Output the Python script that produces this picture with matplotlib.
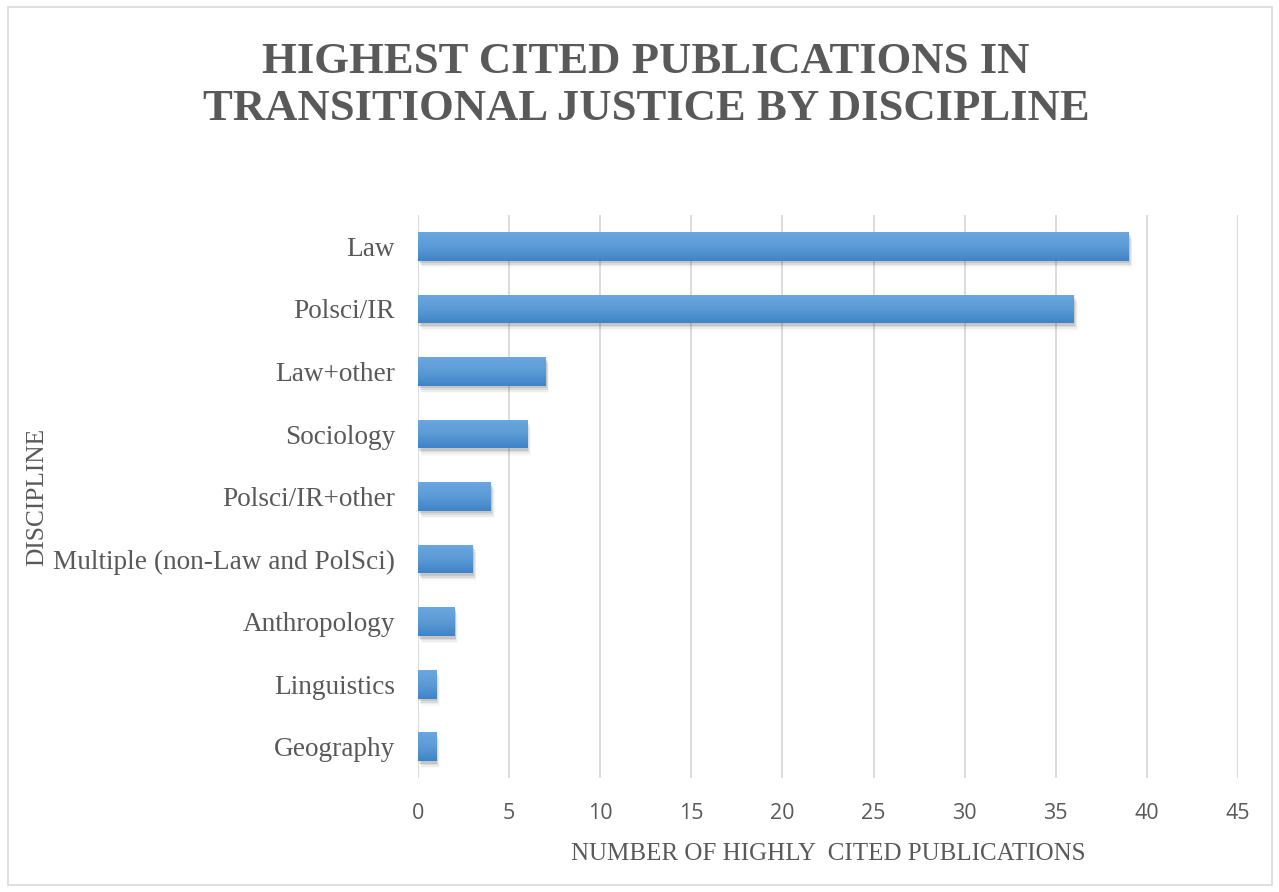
import numpy as np
from matplotlib import pyplot as plt
from matplotlib.patches import Rectangle
from matplotlib.colors import LinearSegmentedColormap

disciplines = ["Law", "Polsci/IR", "Law+other", "Sociology", "Polsci/IR+other",
               "Multiple (non-Law and PolSci)", "Anthropology", "Linguistics", "Geography"]
counts = [39, 36, 7, 6, 4, 3, 2, 1, 1]
x_ticks = [0, 5, 10, 15, 20, 25, 30, 35, 40, 45]

title = "HIGHEST CITED PUBLICATIONS IN\nTRANSITIONAL JUSTICE BY DISCIPLINE"
grey_text = "#595959"

fig = plt.figure(figsize=(12.79, 8.92), dpi=100)
ax = fig.add_axes([0.3268, 0.1278, 0.6411, 0.631])

# outer chart frame
fig.patches.append(Rectangle((8 / 1279, 7 / 892), 1264 / 1279, 878 / 892,
                             transform=fig.transFigure, fill=False,
                             edgecolor="#d9d9d9", linewidth=1.2))

y = np.arange(len(disciplines))
bar_h = 0.46
bars = ax.barh(y, counts, height=bar_h, color="#5b9bd5", zorder=3)

# soft shadow + vertical gradient (light top, darker bottom)
cmap = LinearSegmentedColormap.from_list("bluegrad", ["#6ba7e0", "#5b9bd5", "#3f83c8"])
grad = np.linspace(0, 1, 100).reshape(-1, 1)
for b in bars:
    x0, y0 = b.get_x(), b.get_y()
    w, h = b.get_width(), b.get_height()
    for k, a in enumerate([0.14, 0.10, 0.06, 0.03]):
        ax.add_patch(Rectangle((x0 + 0.06 + 0.05 * k, y0 + 0.04 + 0.025 * k), w, h,
                               color="#404040", alpha=a, lw=0, zorder=2))
    im = ax.imshow(grad, extent=(x0, x0 + w, y0 + h, y0), aspect="auto",
                   cmap=cmap, origin="upper", zorder=3.5)
    im.set_clip_path(b)

ax.set_xlim(0, 45)
ax.set_ylim(len(disciplines) - 0.5, -0.5)
ax.set_xticks(x_ticks)
ax.set_yticks(y)
ax.set_yticklabels(disciplines, family="Liberation Serif", fontsize=19.6, color=grey_text)
ax.set_xticklabels([str(t) for t in x_ticks], family="Open Sans", fontsize=15.5, color=grey_text)
ax.tick_params(length=0, pad=18, axis="x")
ax.tick_params(length=0, pad=16.5, axis="y")

ax.grid(axis="x", color="#d9d9d9", linewidth=1.3, zorder=0)
for s in ax.spines.values():
    s.set_visible(False)

ax.set_xlabel("NUMBER OF HIGHLY  CITED PUBLICATIONS", family="Liberation Serif",
              fontsize=18, color=grey_text, labelpad=14)
ax.set_ylabel("DISCIPLINE", family="Liberation Serif", fontsize=18.3,
              color=grey_text)
ax.yaxis.set_label_coords(-0.451, 0.5)

fig.text(0.505, 0.953, title, ha="center", va="top", family="Liberation Serif",
         fontsize=32.2, fontweight="bold", color=grey_text, linespacing=1.24)

fig.savefig("out.png", dpi=100, facecolor="white")
